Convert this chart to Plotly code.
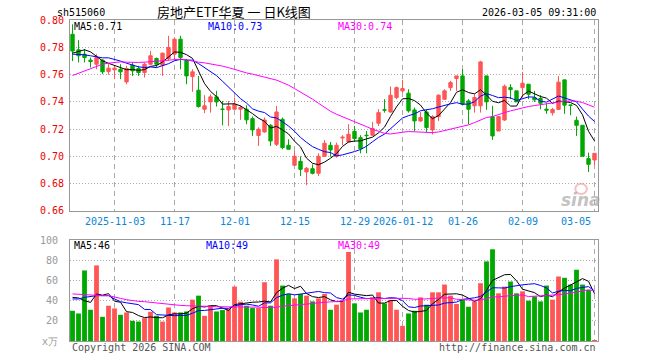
import plotly.graph_objects as go

# ---------------- data ----------------
dates = [
    "2025-10-23", "2025-10-24", "2025-10-27", "2025-10-28", "2025-10-29", "2025-10-30", "2025-10-31",
    "2025-11-03", "2025-11-04", "2025-11-05", "2025-11-06", "2025-11-07", "2025-11-10", "2025-11-11",
    "2025-11-12", "2025-11-13", "2025-11-14", "2025-11-17", "2025-11-18", "2025-11-19", "2025-11-20",
    "2025-11-21", "2025-11-24", "2025-11-25", "2025-11-26", "2025-11-27", "2025-11-28",
    "2025-12-01", "2025-12-02", "2025-12-03", "2025-12-04", "2025-12-05", "2025-12-08", "2025-12-09",
    "2025-12-10", "2025-12-11", "2025-12-12", "2025-12-15", "2025-12-16", "2025-12-17", "2025-12-18",
    "2025-12-19", "2025-12-22", "2025-12-23", "2025-12-24", "2025-12-25", "2025-12-26", "2025-12-29",
    "2025-12-30", "2025-12-31",
    "2026-01-05", "2026-01-06", "2026-01-07", "2026-01-08", "2026-01-09", "2026-01-12", "2026-01-13",
    "2026-01-14", "2026-01-15", "2026-01-16", "2026-01-19", "2026-01-20", "2026-01-21", "2026-01-22",
    "2026-01-23", "2026-01-26", "2026-01-27", "2026-01-28", "2026-01-29", "2026-01-30",
    "2026-02-02", "2026-02-03", "2026-02-04", "2026-02-05", "2026-02-06", "2026-02-09", "2026-02-10",
    "2026-02-11", "2026-02-12", "2026-02-13", "2026-02-24", "2026-02-25", "2026-02-26", "2026-02-27",
    "2026-03-02", "2026-03-03", "2026-03-04", "2026-03-05",
]

open_ = [0.7897, 0.7783, 0.7751, 0.7707, 0.7677, 0.7707, 0.7623, 0.7636, 0.7640, 0.7547,
         0.7670, 0.7645, 0.7616, 0.7677, 0.7719, 0.7670, 0.7719, 0.7751, 0.7861, 0.7702,
         0.7586, 0.7486, 0.7346, 0.7400, 0.7437, 0.7347, 0.7341, 0.7346, 0.7346, 0.7346,
         0.7277, 0.7153, 0.7179, 0.7228, 0.7088, 0.7272, 0.7081, 0.6934, 0.6963, 0.6885,
         0.6909, 0.6875, 0.7000, 0.7081, 0.7000, 0.7135, 0.7106, 0.7184, 0.7137, 0.7155,
         0.7155, 0.7243, 0.7342, 0.7326, 0.7432, 0.7481, 0.7464, 0.7341, 0.7260, 0.7326,
         0.7194, 0.7292, 0.7419, 0.7505, 0.7572, 0.7591, 0.7407, 0.7371, 0.7371, 0.7591,
         0.7290, 0.7186, 0.7267, 0.7505, 0.7481, 0.7505, 0.7530, 0.7430, 0.7425, 0.7347,
         0.7320, 0.7345, 0.7562, 0.7377, 0.7265, 0.7228, 0.6983, 0.6973]
high = [0.7970, 0.7854, 0.7788, 0.7726, 0.7751, 0.7714, 0.7677, 0.7665, 0.7677, 0.7665,
        0.7690, 0.7665, 0.7690, 0.7775, 0.7726, 0.7763, 0.7886, 0.7874, 0.7886, 0.7714,
        0.7640, 0.7591, 0.7449, 0.7456, 0.7481, 0.7407, 0.7407, 0.7432, 0.7375, 0.7375,
        0.7292, 0.7213, 0.7285, 0.7236, 0.7371, 0.7285, 0.7125, 0.7039, 0.7000, 0.6921,
        0.6941, 0.7022, 0.7120, 0.7105, 0.7101, 0.7155, 0.7236, 0.7223, 0.7155, 0.7186,
        0.7253, 0.7346, 0.7420, 0.7513, 0.7513, 0.7562, 0.7493, 0.7358, 0.7326, 0.7341,
        0.7302, 0.7456, 0.7493, 0.7555, 0.7591, 0.7640, 0.7420, 0.7456, 0.7702, 0.7591,
        0.7371, 0.7292, 0.7528, 0.7530, 0.7481, 0.7621, 0.7530, 0.7481, 0.7450, 0.7392,
        0.7356, 0.7590, 0.7562, 0.7377, 0.7292, 0.7228, 0.7027, 0.7022]
low = [0.7700, 0.7690, 0.7690, 0.7653, 0.7640, 0.7604, 0.7600, 0.7567, 0.7567, 0.7530,
       0.7591, 0.7591, 0.7579, 0.7670, 0.7653, 0.7591, 0.7702, 0.7714, 0.7640, 0.7530,
       0.7474, 0.7358, 0.7317, 0.7321, 0.7366, 0.7228, 0.7223, 0.7346, 0.7268, 0.7236,
       0.7150, 0.7076, 0.7174, 0.7076, 0.7076, 0.7052, 0.7052, 0.6929, 0.6855, 0.6787,
       0.6867, 0.6855, 0.6998, 0.6997, 0.6990, 0.7081, 0.7101, 0.7106, 0.7022, 0.7022,
       0.7150, 0.7223, 0.7321, 0.7321, 0.7420, 0.7469, 0.7321, 0.7186, 0.7255, 0.7179,
       0.7160, 0.7260, 0.7415, 0.7481, 0.7481, 0.7376, 0.7236, 0.7321, 0.7321, 0.7341,
       0.7120, 0.7186, 0.7260, 0.7420, 0.7400, 0.7432, 0.7420, 0.7400, 0.7346, 0.7312,
       0.7300, 0.7340, 0.7312, 0.7302, 0.7150, 0.7000, 0.6885, 0.6934]
close = [0.7774, 0.7739, 0.7726, 0.7697, 0.7726, 0.7621, 0.7648, 0.7648, 0.7621, 0.7645,
         0.7628, 0.7616, 0.7677, 0.7739, 0.7677, 0.7758, 0.7800, 0.7861, 0.7726, 0.7591,
         0.7621, 0.7366, 0.7371, 0.7437, 0.7400, 0.7345, 0.7366, 0.7383, 0.7358, 0.7268,
         0.7194, 0.7199, 0.7267, 0.7113, 0.7326, 0.7064, 0.7052, 0.7000, 0.6904, 0.6912,
         0.6875, 0.7000, 0.7096, 0.7047, 0.7081, 0.7140, 0.7162, 0.7130, 0.7056, 0.7152,
         0.7204, 0.7321, 0.7340, 0.7449, 0.7505, 0.7498, 0.7334, 0.7260, 0.7285, 0.7211,
         0.7292, 0.7449, 0.7481, 0.7542, 0.7591, 0.7383, 0.7346, 0.7432, 0.7694, 0.7400,
         0.7150, 0.7292, 0.7515, 0.7490, 0.7400, 0.7537, 0.7456, 0.7415, 0.7390, 0.7339,
         0.7344, 0.7545, 0.7376, 0.7375, 0.7228, 0.7000, 0.6941, 0.7022]

volume = [30, 27.3, 70, 31, 75, 24, 35, 32.3, 26, 28.3,
          20, 19.3, 22.7, 29, 25, 19.3, 33.3, 28.3, 28.3, 29.3,
          41, 45, 25, 35, 29.3, 30.7, 31.7, 54, 39, 35,
          32.7, 32.7, 58.3, 35, 81, 55, 46.7, 42.3, 46.7, 45,
          39.3, 42.3, 46.7, 31, 36, 40, 88.3, 37.3, 28.3, 31,
          43.3, 48.3, 37.3, 40.7, 31, 15, 27.3, 30, 43.3, 36,
          48.3, 48.3, 56, 45, 36.7, 41.7, 34, 39.3, 57.3, 79,
          91, 47.3, 54, 59, 47.3, 49.3, 40, 44.3, 39.3, 55,
          41, 64, 62.7, 56, 70.7, 56, 50.7, 1]

# moving-average values before enough history is visible
ma5_head = [0.7758, 0.7770, 0.7783, 0.7768]
ma10_head = [0.7751, 0.7751, 0.7746, 0.7739, 0.7729, 0.7724, 0.7724, 0.7714, 0.7700]
ma30_price = [0.7594, 0.7611, 0.7628, 0.7645, 0.7663, 0.7677, 0.7685, 0.7692, 0.7694, 0.7692,
              0.7690, 0.7690, 0.7692, 0.7694, 0.7697, 0.7702, 0.7707, 0.7712, 0.7714, 0.7709,
              0.7699, 0.7692, 0.7687, 0.7680, 0.7672, 0.7663, 0.7652, 0.7638, 0.7623, 0.7613,
              0.7604, 0.7594, 0.7584, 0.7572, 0.7560, 0.7542, 0.7523, 0.7498, 0.7474, 0.7449,
              0.7420, 0.7390, 0.7361, 0.7331, 0.7309, 0.7292, 0.7272, 0.7258, 0.7238, 0.7218,
              0.7199, 0.7184, 0.7169, 0.7164, 0.7172, 0.7177, 0.7182, 0.7179, 0.7177, 0.7174,
              0.7174, 0.7179, 0.7189, 0.7199, 0.7209, 0.7218, 0.7231, 0.7248, 0.7267, 0.7285,
              0.7292, 0.7304, 0.7321, 0.7334, 0.7346, 0.7358, 0.7366, 0.7373, 0.7380, 0.7388,
              0.7393, 0.7400, 0.7405, 0.7407, 0.7405, 0.7395, 0.7376, 0.7361]
vol_ma5_head = [43.3, 42.7, 40.0, 38.3]
vol_ma10_head = [41.7, 41.7, 43.3, 44.3, 45.0, 45.0, 45.0, 41.7, 39.0]
vol_ma30_head = [46.7, 46.3, 45.7, 45.3, 45.0, 45.0, 45.0, 43.3, 42.3, 41.0,
                 40.0, 39.3, 39.0, 38.3, 37.7, 37.3, 36.7, 36.0, 35.3, 35.0,
                 35.0, 35.0, 34.7, 34.3, 34.0, 34.0, 34.0, 34.0, 33.7]

price_ticks = [0.66, 0.68, 0.70, 0.72, 0.74, 0.76, 0.78, 0.80]
vol_ticks = [0, 20, 40, 60, 80, 100]
vol_tick_text = ["x万", "20", "40", "60", "80", "100"]
tick_dates = ["2025-11-03", "2025-11-17", "2025-12-01", "2025-12-15", "2025-12-29",
              "2026-01-12", "2026-01-26", "2026-02-09", "2026-03-05"]
tick_labels = ["2025-11-03", "11-17", "12-01", "12-15", "12-29",
               "2026-01-12", "01-26", "02-09", "03-05"]

ma_labels = ["MA5:0.71", "MA10:0.73", "MA30:0.74"]
vol_ma_labels = ["MA5:46", "MA10:49", "MA30:49"]


def moving_avg(vals, n, head):
    out = []
    for i in range(len(vals)):
        if i < n - 1:
            out.append(head[i])
        else:
            out.append(sum(vals[i - n + 1:i + 1]) / n)
    return out


ma5 = moving_avg(close, 5, ma5_head)
ma10 = moving_avg(close, 10, ma10_head)
vma5 = moving_avg(volume, 5, vol_ma5_head)
vma10 = moving_avg(volume, 10, vol_ma10_head)
vma30 = moving_avg(volume, 30, vol_ma30_head)

# ---------------- styling ----------------
RED = "#ff5555"
GREEN = "#00a800"
MONO = "DejaVu Sans Mono"
GRID = "#aaaaaa"
BORDER = "#999999"

x = list(range(len(dates)))
tick_idx = [dates.index(d) for d in tick_dates]
vcolors = [RED if c >= o else GREEN for o, c in zip(open_, close)]

fig = go.Figure()

fig.add_trace(go.Candlestick(
    x=x, open=open_, high=high, low=low, close=close,
    increasing=dict(line=dict(color=RED, width=1), fillcolor=RED),
    decreasing=dict(line=dict(color=GREEN, width=1), fillcolor=GREEN),
    whiskerwidth=0, xaxis="x", yaxis="y", hoverinfo="skip"))

for vals, col in [(ma5, "black"), (ma10, "#0000ff"), (ma30_price, "#ff00ff")]:
    fig.add_trace(go.Scatter(x=x, y=vals, mode="lines", line=dict(color=col, width=1),
                             xaxis="x", yaxis="y", hoverinfo="skip"))

fig.add_trace(go.Bar(x=x, y=volume, marker=dict(color=vcolors, line=dict(width=0)),
                     width=0.8, xaxis="x2", yaxis="y2", hoverinfo="skip"))
for vals, col in [(vma5, "black"), (vma10, "#0000ff"), (vma30, "#ff00ff")]:
    fig.add_trace(go.Scatter(x=x, y=vals, mode="lines", line=dict(color=col, width=1),
                             xaxis="x2", yaxis="y2", hoverinfo="skip"))

xr = [-0.42, len(dates) - 1 + 0.58]
common_x = dict(range=xr, tickvals=tick_idx, showticklabels=False, ticks="",
                showgrid=True, gridcolor=GRID, griddash="5px,4px", gridwidth=1,
                zeroline=False, showline=True, mirror=True, linecolor=BORDER, linewidth=1)

fig.update_layout(
    width=660, height=360,
    margin=dict(l=70, r=62, t=20, b=19),
    paper_bgcolor="white", plot_bgcolor="white",
    showlegend=False, hovermode=False, boxgap=0.2,
    xaxis=dict(domain=[0, 1], anchor="y", rangeslider=dict(visible=False), **common_x),
    xaxis2=dict(domain=[0, 1], anchor="y2", **common_x),
    yaxis=dict(domain=[0.405, 1], range=[0.6598, 0.8002], tickvals=price_ticks,
               ticktext=[f"{v:.2f}" for v in price_ticks],
               tickfont=dict(family=MONO, size=10, color="#ee0000"), ticks="",
               ticklabelstandoff=3,
               showgrid=True, gridcolor=GRID, griddash="1px,2px", zeroline=False,
               showline=True, mirror=True, linecolor=BORDER, linewidth=1),
    yaxis2=dict(domain=[0, 0.3146], range=[0, 100.2], tickvals=vol_ticks, ticktext=vol_tick_text,
                tickfont=dict(family=MONO, size=10, color="#999999"), ticks="",
                ticklabelstandoff=9,
                showgrid=True, gridcolor=GRID, griddash="1px,2px", zeroline=False,
                showline=True, mirror=True, linecolor=BORDER, linewidth=1),
)

ann = []
def txt(text, x, y, xref="paper", xanchor="left", size=10, color="black", family=MONO, **kw):
    ann.append(dict(text=text, x=x, y=y, xref=xref, yref="paper", xanchor=xanchor,
                    yanchor="middle", showarrow=False,
                    font=dict(family=family, size=size, color=color, **kw)))

# header
txt("sh515060", -0.028, 1.024)
txt("房地产ETF华夏 一 日K线图", 0.31, 1.026, xanchor="center", size=13,
    family="Noto Sans CJK SC")
txt("2026-03-05 09:31:00", 1.0, 1.024, xanchor="right")
# MA labels
for lab, xp, col in zip(ma_labels, [0.004, 0.257, 0.503], ["black", "#0000ff", "#ff00ff"]):
    txt(lab, xp, 0.981, color=col)
for lab, xp, col in zip(vol_ma_labels, [0.004, 0.254, 0.503], ["black", "#0000ff", "#ff00ff"]):
    txt(lab, xp, 0.296, color=col)
# date labels
for i, (idx, lab) in enumerate(zip(tick_idx, tick_labels)):
    last = i == len(tick_idx) - 1
    ann.append(dict(text=lab, x=idx, y=0.3738, xref="x", yref="paper",
                    xanchor="right" if last else "center", yanchor="middle",
                    xshift=-2 if last else 0, showarrow=False,
                    font=dict(family=MONO, size=10, color="#0a86d6")))
# footer
txt("Copyright 2026 SINA.COM", 0.0, -0.0187, color="#555555")
txt("http://finance.sina.com.cn", 1.0, -0.0187, xanchor="right", color="#555555")
# watermark
ann.append(dict(text="sina", x=0.968, y=0.44, xref="paper", yref="paper", xanchor="center",
                yanchor="middle", showarrow=False,
                font=dict(family="DejaVu Sans", size=17, color="rgba(160,160,160,0.65)",
                          style="italic", weight="bold")))
fig.update_layout(annotations=ann)
fig.add_shape(type="circle", xref="paper", yref="paper", x0=0.957, x1=0.979, y0=0.458, y1=0.49,
              line=dict(color="rgba(235,140,140,0.55)", width=2), fillcolor="rgba(0,0,0,0)")

fig.write_html("out.html", config={"displayModeBar": False, "staticPlot": True},
               post_script="document.body.style.margin='0';")
